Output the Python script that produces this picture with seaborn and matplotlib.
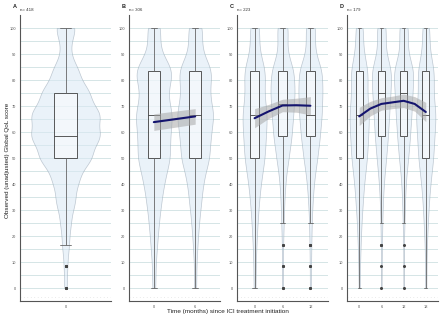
import numpy as np
import pandas as pd
import matplotlib
matplotlib.use("Agg")
import matplotlib.pyplot as plt
import seaborn as sns

# QoL score levels (multiples of 1/12 of 100)
score_levels = [0, 8.33, 16.67, 25, 33.33, 41.67, 50, 58.33, 66.67, 75, 83.33, 91.67, 100]

a_m0 = [3, 4, 8, 12, 22, 30, 60, 80, 80, 55, 30, 10, 24]

b_m0 = [4, 4, 8, 12, 18, 26, 40, 38, 46, 30, 50, 12, 18]
b_m6 = [3, 3, 6, 10, 16, 22, 38, 40, 50, 36, 46, 16, 20]

c_m0 = [3, 3, 5, 8, 12, 18, 28, 30, 35, 24, 32, 10, 15]
c_m6 = [2, 2, 2, 4, 6, 10, 20, 30, 35, 40, 38, 13, 20]
c_m12 = [2, 2, 3, 4, 7, 12, 22, 30, 36, 38, 38, 12, 17]

d_m0 = [2, 2, 4, 6, 10, 14, 22, 24, 28, 20, 26, 9, 12]
d_m6 = [1, 1, 2, 3, 5, 9, 16, 22, 26, 30, 35, 12, 17]
d_m12 = [1, 1, 1, 3, 5, 8, 16, 22, 27, 30, 36, 12, 17]
d_m18 = [2, 2, 3, 6, 9, 14, 22, 24, 30, 20, 26, 9, 12]

# fitted trajectory (months, estimate, ci low, ci high)
b_fit_months = [0, 6]
b_fit_est = [63.8, 66.0]
b_fit_lo = [60.6, 63.0]
b_fit_hi = [67.0, 69.0]

c_fit_months = [0, 3, 6, 9, 12]
c_fit_est = [65.3, 67.9, 70.2, 70.3, 70.1]
c_fit_lo = [61.6, 65.2, 67.8, 67.6, 66.6]
c_fit_hi = [69.0, 70.6, 72.6, 73.0, 73.6]

d_fit_months = [0, 3, 6, 9, 12, 15, 18]
d_fit_est = [66.0, 69.0, 70.8, 71.4, 72.0, 70.8, 67.7]
d_fit_lo = [62.5, 66.2, 68.4, 69.0, 69.4, 68.0, 64.0]
d_fit_hi = [69.5, 71.8, 73.2, 73.8, 74.6, 73.6, 71.4]

panel_tags = ["A", "B", "C", "D"]
panel_n = [418, 306, 223, 179]
month_labels = [["0"], ["0", "6"], ["0", "6", "12"], ["0", "6", "12", "18"]]
panel_counts = [[a_m0], [b_m0, b_m6], [c_m0, c_m6, c_m12], [d_m0, d_m6, d_m12, d_m18]]
panel_fits = [None,
              (b_fit_months, b_fit_est, b_fit_lo, b_fit_hi),
              (c_fit_months, c_fit_est, c_fit_lo, c_fit_hi),
              (d_fit_months, d_fit_est, d_fit_lo, d_fit_hi)]

sns.set_style("white")
plt.rcParams['font.family'] = ['Liberation Sans', 'DejaVu Sans']

fig = plt.figure(figsize=(4.4, 3.21), dpi=100)
W, H = 440.0, 321.0
ax_left = [20, 129, 237, 347]
ax_w = 91
ax_top, ax_bot = 15, 301
half_span = [0.57, 0.6, 0.63, 0.55]

grid_col = '#cfe0e2'
violin_col = '#d6e9f9'
edge_col = '#8f9eae'
box_col = '#3f3f3f'
line_col = '#14146e'

for i in range(4):
    ax = fig.add_axes([ax_left[i] / W, 1 - ax_bot / H, ax_w / W, (ax_bot - ax_top) / H])
    rows = []
    for j, counts in enumerate(panel_counts[i]):
        vals = np.repeat(score_levels, counts)
        rows.append(pd.DataFrame({'month': month_labels[i][j], 'score': vals}))
    df = pd.concat(rows, ignore_index=True)

    # grid lines
    for y in range(0, 101, 5):
        ax.axhline(y, color=grid_col, lw=0.6, zorder=0)
    ax.axhline(-3.3, color='#d6d6d6', lw=0.5, ls=(0, (1, 4)), zorder=0)

    sns.violinplot(data=df, x='month', y='score', order=month_labels[i], ax=ax,
                   color=violin_col, inner=None, cut=0, density_norm='width',
                   bw_adjust=0.7, width=0.86, linewidth=0.5, linecolor=edge_col, alpha=0.55)
    sns.boxplot(data=df, x='month', y='score', order=month_labels[i], ax=ax,
                width=0.3, linewidth=0.6, linecolor=box_col, fliersize=1.2, whis=1.6,
                boxprops=dict(facecolor=(1, 1, 1, 0.45)),
                flierprops=dict(marker='o', markerfacecolor='#444444',
                                markeredgecolor='#444444'),
                whiskerprops=dict(color='#666666'), capprops=dict(color='#666666'))

    fit = panel_fits[i]
    if fit is not None:
        xs = np.array(fit[0]) / 6.0
        ax.fill_between(xs, fit[2], fit[3], color='#a8a8a8', alpha=0.55, lw=0, zorder=5)
        sns.lineplot(x=xs, y=fit[1], ax=ax, color=line_col, lw=1.5, zorder=6)

    ax.set_xlim(-half_span[i], len(month_labels[i]) - 1 + half_span[i])
    ax.set_ylim(-5, 105)
    ax.set_yticks(range(0, 101, 10))
    ax.set_xlabel('')
    ax.set_ylabel('')
    ax.tick_params(axis='both', labelsize=2.8, colors='#555555', length=1.2, width=0.4, pad=1.5)
    for s in ['top', 'right']:
        ax.spines[s].set_visible(False)
    for s in ['left', 'bottom']:
        ax.spines[s].set_color('#555555')
        ax.spines[s].set_linewidth(0.8)

    fig.text((ax_left[i] - 7) / W, 1 - 6 / H, panel_tags[i], fontsize=4, fontweight='bold',
             ha='left', va='center', color='#222222')
    fig.text(ax_left[i] / W, 1 - 10 / H, f"n= {panel_n[i]}", fontsize=3.2,
             ha='left', va='center', color='#333333')

fig.text(8 / W, 0.5, 'Observed (unadjusted) Global QoL score', rotation=90,
         fontsize=4.6, ha='center', va='center', color='#222222')
fig.text(228 / W, 1 - 312 / H, 'Time (months) since ICI treatment initiation',
         fontsize=4.6, ha='center', va='center', color='#222222')

fig.savefig('out.png', dpi=100)
